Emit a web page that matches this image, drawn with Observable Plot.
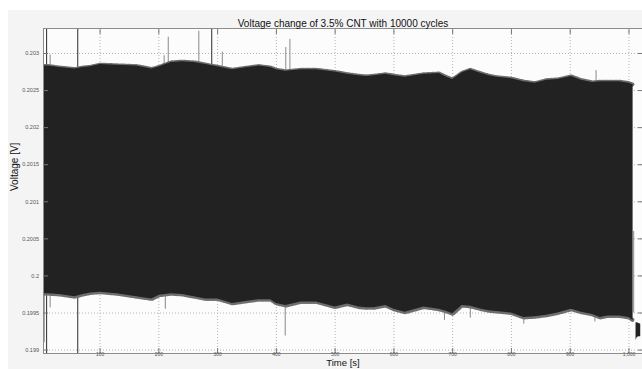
<!DOCTYPE html>
<html><head><meta charset="utf-8">
<script src="https://cdn.jsdelivr.net/npm/d3@7"></script>
<script src="https://cdn.jsdelivr.net/npm/@observablehq/plot@0.6"></script>
<style>
html,body{margin:0;padding:0;background:#fff;}
#chart svg{display:block;}
</style></head><body><div id="chart"></div>
<script>
const title = "Voltage change of 3.5% CNT with 10000 cycles";
const xLabel = "Time [s]";
const yLabel = "Voltage [V]";
const xTicks = [100, 200, 300, 400, 500, 600, 700, 800, 900, 1000];
const yTicks = [0.199, 0.1995, 0.2, 0.2005, 0.201, 0.2015, 0.202, 0.2025, 0.203];

// envelope of the dense oscillation (time in s, voltage in V)
const envT = [4, 12, 31, 57, 71, 84, 100, 129, 162, 188, 201, 221, 240, 260, 280, 300, 325, 351, 370, 390, 400, 416, 442, 468, 500, 521, 540, 554, 566, 586, 600, 619, 651, 677, 690, 700, 716, 730, 749, 762, 775, 788, 800, 821, 840, 860, 879, 902, 919, 938, 951, 964, 984, 1000, 1007];
const envHi = [0.20283, 0.20283, 0.20281, 0.20279, 0.20281, 0.20282, 0.20285, 0.20284, 0.20283, 0.20279, 0.20282, 0.20288, 0.20289, 0.20288, 0.20285, 0.20282, 0.20278, 0.20281, 0.20283, 0.20281, 0.20278, 0.20276, 0.20278, 0.20278, 0.20275, 0.20272, 0.20270, 0.20269, 0.20270, 0.20272, 0.20270, 0.20268, 0.20272, 0.20273, 0.20268, 0.20265, 0.20274, 0.20278, 0.20273, 0.20270, 0.20268, 0.20267, 0.20266, 0.20262, 0.20260, 0.20264, 0.20265, 0.20269, 0.20264, 0.20261, 0.20262, 0.20262, 0.20262, 0.20260, 0.20258];
const envLo = [0.19976, 0.19976, 0.19975, 0.19972, 0.19975, 0.19977, 0.19978, 0.19976, 0.19972, 0.19969, 0.19974, 0.19976, 0.19975, 0.19972, 0.19969, 0.19969, 0.19963, 0.19966, 0.19968, 0.19968, 0.19963, 0.19960, 0.19965, 0.19965, 0.19958, 0.19962, 0.19958, 0.19957, 0.19957, 0.19960, 0.19955, 0.19951, 0.19958, 0.19955, 0.19952, 0.19949, 0.19960, 0.19959, 0.19955, 0.19953, 0.19952, 0.19951, 0.19950, 0.19944, 0.19945, 0.19947, 0.19950, 0.19955, 0.19951, 0.19948, 0.19944, 0.19946, 0.19946, 0.19944, 0.19940];

// isolated spikes (they start inside the band, which hides their base)
const spikeT  = [5, 9, 15, 15, 62, 209, 211, 216, 268, 290, 308, 415, 416, 423, 686, 730, 821, 942, 944, 1008];
const spikeLo = [0.1991, 0.19895, 0.2025, 0.19957, 0.19895, 0.2025, 0.19955, 0.2025, 0.2025, 0.2025, 0.2025, 0.19919, 0.2025, 0.2025, 0.19940, 0.19943, 0.19935, 0.19938, 0.2025, 0.1995];
const spikeHi = [0.2017, 0.20334, 0.20298, 0.2, 0.20334, 0.20297, 0.2, 0.20322, 0.2033, 0.20334, 0.20302, 0.2, 0.20308, 0.20319, 0.2, 0.2, 0.2, 0.2, 0.20277, 0.2006];
const spikeTone = ["light", "dark", "light", "light", "dark", "light", "light", "light", "light", "dark", "light", "light", "light", "light", "light", "light", "light", "light", "light", "light"];

// short segment after the end of the cycling
const tailT  = [1012, 1014, 1017, 1020];
const tailLo = [0.19913, 0.19917, 0.19918, 0.19918];
const tailHi = [0.19937, 0.19937, 0.19936, 0.19935];

const env = envT.map((t, i) => ({t, hi: envHi[i], lo: envLo[i]}));
const spikes = spikeT.map((t, i) => ({t, lo: spikeLo[i], hi: spikeHi[i], tone: spikeTone[i]}));
const tail = tailT.map((t, i) => ({t, lo: tailLo[i], hi: tailHi[i]}));

const chart = Plot.plot({
  width: 642,
  height: 369,
  marginLeft: 43,
  marginRight: 0,
  marginTop: 28,
  marginBottom: 16,
  style: {
    background: "linear-gradient(#fff,#fff) top left/100% 10px no-repeat, linear-gradient(#fff,#fff) top left/8px 100% no-repeat, #f4f4f4",
    fontFamily: "Arial, 'Liberation Sans', sans-serif",
    color: "#222"
  },
  x: {domain: [3.7, 1023]},
  y: {domain: [0.198954, 0.203337]},
  marks: [
    Plot.frame({fill: "#fcfcfc", stroke: "none"}),
    Plot.gridX(xTicks, {stroke: "#b4b4b4", strokeOpacity: 1, strokeDasharray: "1,2"}),
    Plot.gridY(yTicks, {stroke: "#b4b4b4", strokeOpacity: 1, strokeDasharray: "1,2"}),
    Plot.ruleX(spikes, {x: "t", y1: "lo", y2: "hi", stroke: d => d.tone === "dark" ? "#2a2a2a" : "#8a8a8a", strokeWidth: 1, clip: true}),
    Plot.line(env, {x: "t", y: "hi", stroke: "#6e6e6e", strokeWidth: 4, strokeDasharray: "1,1.5", clip: true}),
    Plot.line(env, {x: "t", y: "lo", stroke: "#6e6e6e", strokeWidth: 4, strokeDasharray: "1,1.5", clip: true}),
    Plot.areaY(env, {x: "t", y1: "lo", y2: "hi", fill: "#222", clip: true}),
    Plot.areaY(tail, {x: "t", y1: "lo", y2: "hi", fill: "#222", clip: true}),
    Plot.frame({stroke: "#8c8c8c"}),
    Plot.axisX(xTicks, {anchor: "bottom", tickSize: -5, tickPadding: 4, fontSize: 5, fill: "#555", stroke: "#777", label: null}),
    Plot.axisX(xTicks, {anchor: "top", tickSize: -5, tickFormat: () => "", stroke: "#777", label: null}),
    Plot.axisY(yTicks, {anchor: "left", tickSize: -5, tickPadding: 9.5, fontSize: 5.5, fill: "#555", stroke: "#777", tickFormat: d => String(d), label: null}),
    Plot.axisY(yTicks, {anchor: "right", tickSize: -5, tickFormat: () => "", stroke: "#777", label: null}),
    Plot.text([title], {frameAnchor: "top", dy: -8.7, fontSize: 10, fill: "#111"}),
    Plot.text([yLabel], {frameAnchor: "left", dx: -29, rotate: -90, fontSize: 10, fill: "#111"}),
    Plot.text([xLabel], {frameAnchor: "bottom", dy: 12, fontSize: 9.5, fontWeight: "normal", fill: "#111"})
  ]
});
document.getElementById("chart").append(chart);
</script>
</body></html>
